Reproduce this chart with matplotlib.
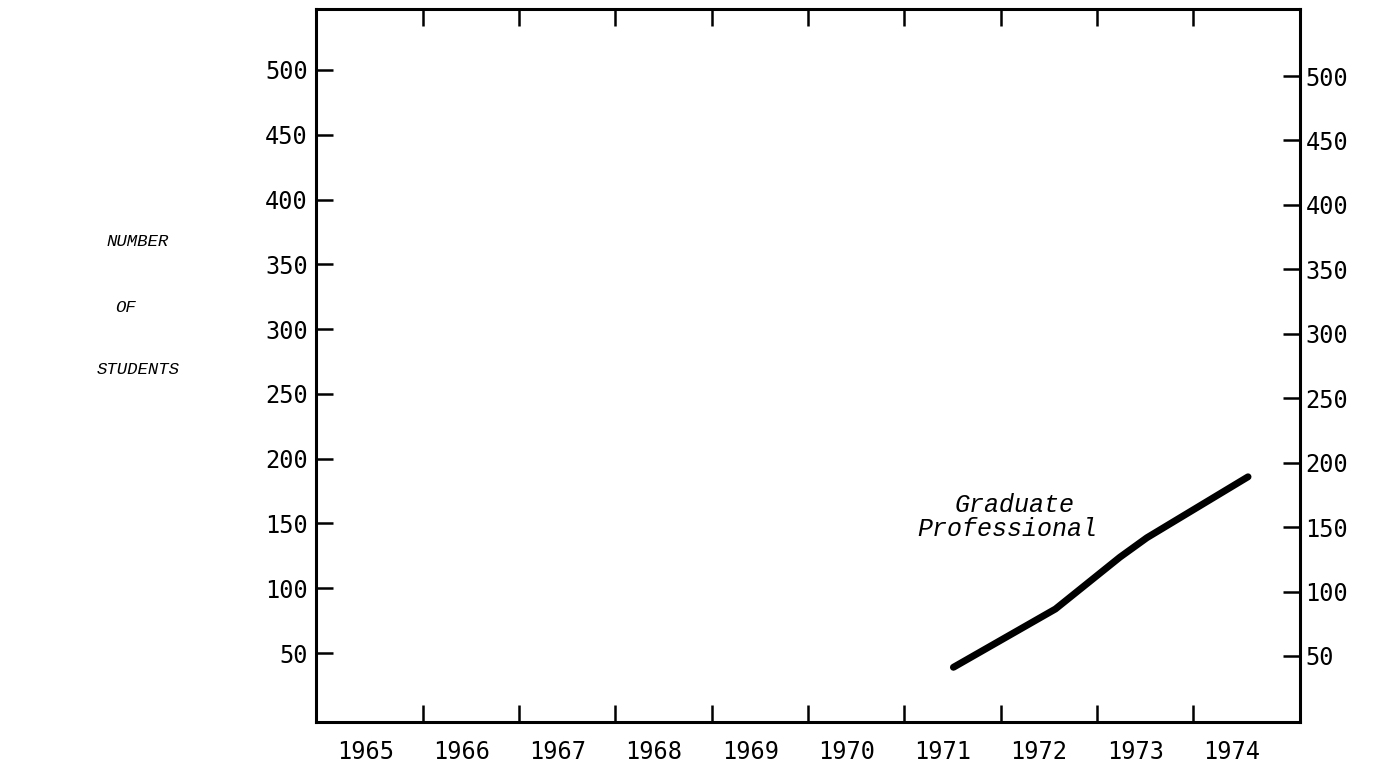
import matplotlib
matplotlib.use("Agg")
import matplotlib.pyplot as plt

# data
years = [1965, 1966, 1967, 1968, 1969, 1970, 1971, 1972, 1973, 1974]
year_labels = [str(y) for y in years]
y_ticks = [50, 100, 150, 200, 250, 300, 350, 400, 450, 500]

grad_x = [1971.11, 1972.17, 1972.84, 1973.12, 1974.17]
grad_y = [39, 84, 124, 139, 186]

mono = "DejaVu Sans Mono"
typewriter = "Liberation Mono"

fig = plt.figure(figsize=(13.77, 7.72), dpi=100)
ax = fig.add_axes([0.2295, 0.0648, 0.7146, 0.9235])

ax.plot(grad_x, grad_y, color="black", lw=5, solid_capstyle="round",
        solid_joinstyle="round")

ax.text(1971.75, 164, "Graduate", fontsize=18, family=typewriter,
        style="italic", ha="center", va="center")
ax.text(1971.67, 146, "Professional", fontsize=18, family=typewriter,
        style="italic", ha="center", va="center")

ax.set_xlim(1964.49, 1974.71)
ax.set_ylim(-3.2, 547)

# year labels sit between the tick marks
ax.set_xticks(years)
ax.set_xticklabels(year_labels, family=mono, fontsize=17)
ax.tick_params(axis="x", which="major", length=0, pad=13)
ax.set_xticks([y + 0.6 for y in years[:-1]], minor=True)
ax.tick_params(axis="x", which="minor", direction="in", length=12, width=1.8,
               top=True, bottom=True)

ax.set_yticks(y_ticks)
ax.set_yticklabels([str(v) for v in y_ticks], family=mono, fontsize=17)
ax.tick_params(axis="y", direction="in", length=12, width=1.8, pad=6)

for s in ax.spines.values():
    s.set_linewidth(2.2)

# right hand scale (scan is slightly skewed, so a twin axis)
ax2 = ax.twinx()
ax2.set_ylim(-1.2, 552)
ax2.set_yticks(y_ticks)
ax2.set_yticklabels([str(v) for v in y_ticks], family=mono, fontsize=17)
ax2.tick_params(axis="y", direction="in", length=12, width=1.8, pad=4)
for s in ax2.spines.values():
    s.set_visible(False)

fig.text(138 / 1377, 1 - 242 / 772, "NUMBER", fontsize=12.5, family=typewriter,
         style="italic", ha="center", va="center")
fig.text(126 / 1377, 1 - 307 / 772, "OF", fontsize=12.5, family=typewriter,
         style="italic", ha="center", va="center")
fig.text(138 / 1377, 1 - 370 / 772, "STUDENTS", fontsize=12.5, family=typewriter,
         style="italic", ha="center", va="center")

fig.savefig("out.png", dpi=100)
